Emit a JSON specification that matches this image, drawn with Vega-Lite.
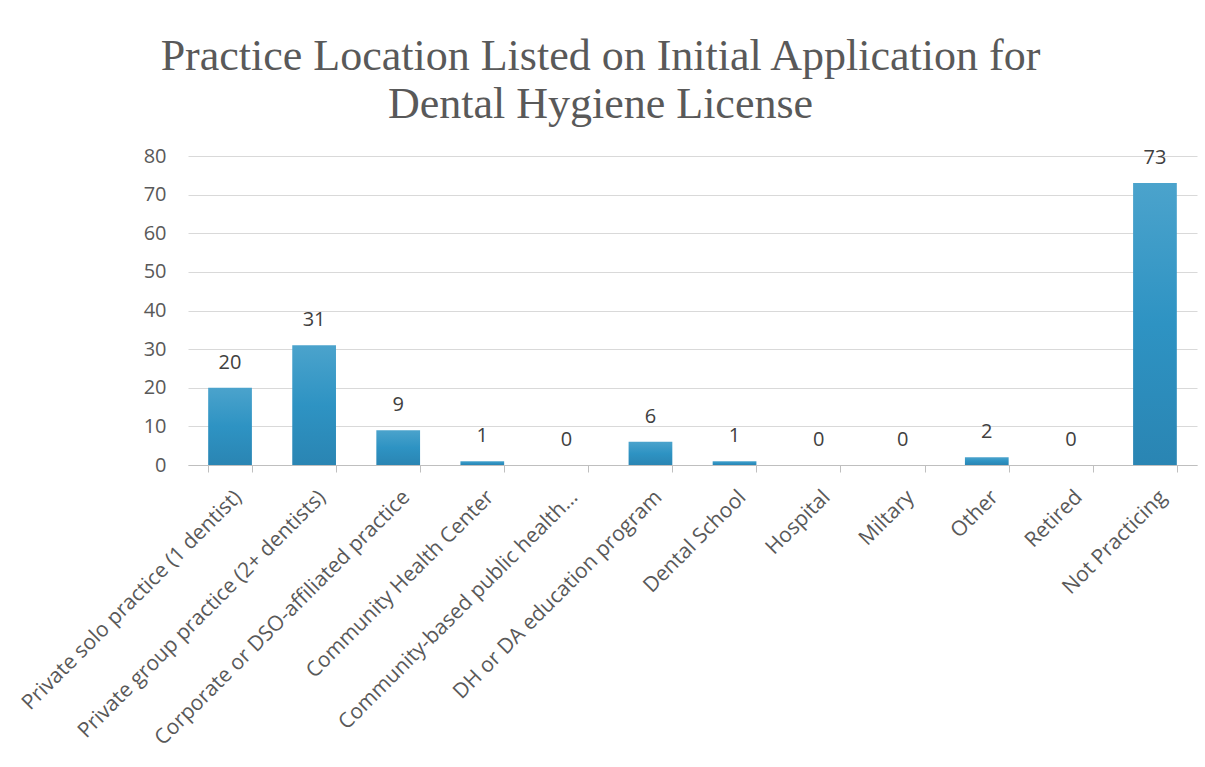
{
  "$schema": "https://vega.github.io/schema/vega-lite/v6.json",
  "autosize": "none",
  "width": 1009,
  "height": 309,
  "padding": {"left": 188, "top": 156, "right": 8, "bottom": 302},
  "background": "white",
  "title": {
    "text": ["Practice Location Listed on Initial Application for", "Dental Hygiene License"],
    "font": "Liberation Serif",
    "fontSize": 44,
    "fontWeight": "normal",
    "color": "#595959",
    "anchor": "middle",
    "frame": "group",
    "dx": -92,
    "offset": 19,
    "lineHeight": 48
  },
  "data": {
    "values": [
      {"location": "Private solo practice (1 dentist)", "count": 20},
      {"location": "Private group practice (2+ dentists)", "count": 31},
      {"location": "Corporate or DSO-affiliated practice", "count": 9},
      {"location": "Community Health Center", "count": 1},
      {"location": "Community-based public health…", "count": 0},
      {"location": "DH or DA education program", "count": 6},
      {"location": "Dental School", "count": 1},
      {"location": "Hospital", "count": 0},
      {"location": "Miltary", "count": 0},
      {"location": "Other", "count": 2},
      {"location": "Retired", "count": 0},
      {"location": "Not Practicing", "count": 73}
    ]
  },
  "config": {
    "view": {"stroke": null},
    "font": "Open Sans"
  },
  "encoding": {
    "x": {
      "field": "location",
      "type": "nominal",
      "sort": null,
      "scale": {"paddingInner": 0.48, "paddingOuter": 0.24},
      "axis": {
        "title": null,
        "labelAngle": -45,
        "labelFontSize": 21,
        "labelColor": "#595959",
        "labelFont": "Open Sans",
        "labelPadding": 14,
        "labelLimit": 400,
        "labelOverlap": false,
        "domainColor": "#bfbfbf",
        "tickColor": "#bfbfbf",
        "tickBand": "extent",
        "tickSize": 7,
        "grid": false
      }
    },
    "y": {
      "field": "count",
      "type": "quantitative",
      "scale": {"domain": [0, 80]},
      "axis": {
        "title": null,
        "values": [0, 10, 20, 30, 40, 50, 60, 70, 80],
        "labelOverlap": false,
        "labelFontSize": 20,
        "labelColor": "#595959",
        "labelFont": "Open Sans",
        "labelPadding": 22,
        "domain": false,
        "ticks": false,
        "gridColor": "#d9d9d9",
        "gridWidth": 1
      }
    }
  },
  "layer": [
    {
      "mark": {
        "type": "bar",
        "color": {
          "gradient": "linear",
          "x1": 0, "y1": 0, "x2": 0, "y2": 1,
          "stops": [
            {"offset": 0, "color": "#4ba3cc"},
            {"offset": 0.5, "color": "#2e93c3"},
            {"offset": 1, "color": "#2a85b3"}
          ]
        }
      }
    },
    {
      "mark": {"type": "text", "dy": -25, "fontSize": 20, "color": "#404040", "font": "Open Sans"},
      "encoding": {"text": {"field": "count", "type": "quantitative"}}
    }
  ]
}
